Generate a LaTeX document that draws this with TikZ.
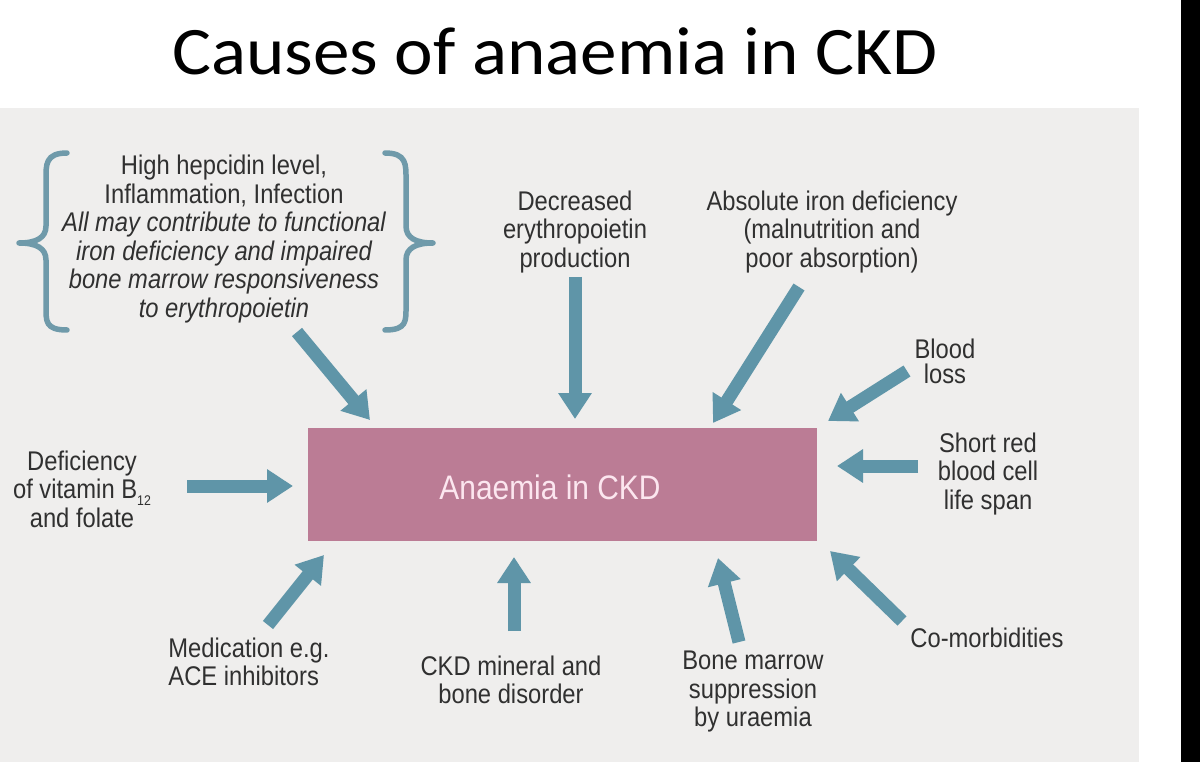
\documentclass[tikz,border=0pt]{standalone}
\usepackage{fontspec}
\setmainfont{Liberation Sans}[FakeStretch=0.88]
\newfontfamily\titlefont{Carlito}[FakeStretch=1.075]
\usetikzlibrary{arrows.meta}
\definecolor{panelc}{HTML}{EFEEED}
\definecolor{arrowc}{HTML}{5F95A8}
\definecolor{bracec}{HTML}{6F9AAA}
\definecolor{boxc}{HTML}{BB7C95}
\definecolor{boxtext}{HTML}{FCE6EF}
\definecolor{txtc}{HTML}{303030}
\tikzset{
  cause/.style={draw=arrowc, line width=13pt, -{Triangle[length=26pt,width=32pt]}},
  lbl/.style={text=txtc, align=center, inner sep=0pt, font=\fontsize{27}{28.5}\selectfont},
  bracepath/.style={draw=bracec, line width=5.5pt, line cap=round, line join=round},
}
\begin{document}
\begin{tikzpicture}[x=1pt,y=-1pt]
\useasboundingbox (0,0) rectangle (1200,762);
% backgrounds
\fill[white] (0,0) rectangle (1200,762);
\fill[panelc] (0,108) rectangle (1139,762);
\fill[black] (1181,0) rectangle (1200,762);
% title
\node[anchor=base, inner sep=0pt, font=\titlefont\fontsize{68}{70}\selectfont] (title) at (555,75) {Causes of anaemia in CKD};
% central box
\node[fill=boxc, minimum width=509pt, minimum height=113pt, inner sep=0pt] (box) at (562.5,484.5) {};
\node[text=boxtext, inner sep=0pt, font=\fontsize{34}{36}\selectfont] (boxlabel) at (550,487) {Anaemia in CKD};
% labels
\node[lbl] (brace) at (224,239) {High hepcidin level,\\Inflammation, Infection\\
  \itshape All may contribute to functional\\ \itshape iron deficiency and impaired\\
  \itshape bone marrow responsiveness\\ \itshape to erythropoietin};
\node[lbl] (epo) at (575,232) {Decreased\\erythropoietin\\production};
\node[lbl] (iron) at (832,232) {Absolute iron deficiency\\(malnutrition and\\poor absorption)};
\node[lbl, font=\fontsize{27}{25}\selectfont] (blood) at (945,361) {Blood\\loss};
\node[lbl] (short) at (988,474) {Short red\\blood cell\\life span};
\node[lbl] (comorb) at (987,638) {Co-morbidities};
\node[lbl] (vitb) at (82,489) {Deficiency\\of vitamin B\raisebox{-0.45ex}{\fontsize{14}{14}\selectfont 12}\\and folate};
\node[lbl, align=left] (med) at (249,662) {Medication e.g.\\ACE inhibitors};
\node[lbl] (ckd) at (511,680) {CKD mineral and\\bone disorder};
\node[lbl] (marrow) at (753,692) {Bone marrow\\suppression\\by uraemia};
% braces
\draw[bracepath] (67,153) .. controls (45,153) and (46,165) .. (46,180) -- (46,226)
  .. controls (46,238) and (36,243) .. (19,243)
  .. controls (36,243) and (46,248) .. (46,260) -- (46,306)
  .. controls (46,321) and (45,330) .. (67,330);
\draw[bracepath] (385,153) .. controls (407,153) and (406,165) .. (406,180) -- (406,226)
  .. controls (406,238) and (416,243) .. (433,243)
  .. controls (416,243) and (406,248) .. (406,260) -- (406,306)
  .. controls (406,321) and (407,330) .. (385,330);
% arrow end points
\coordinate (t1) at (297,332); \coordinate (h1) at (370,420);
\coordinate (t2) at (575,277); \coordinate (h2) at (575,419);
\coordinate (t3) at (799,287); \coordinate (h3) at (713,423);
\coordinate (t4) at (907,371); \coordinate (h4) at (828,421);
\coordinate (t5) at (918,466); \coordinate (h5) at (837,466);
\coordinate (t6) at (902,621); \coordinate (h6) at (830,551);
\coordinate (t7) at (739,642); \coordinate (h7) at (718,558);
\coordinate (t8) at (514,631); \coordinate (h8) at (514,557);
\coordinate (t9) at (268,625); \coordinate (h9) at (324,555);
\coordinate (t10) at (187,486); \coordinate (h10) at (293,486);
\foreach \i in {1,...,10} { \draw[cause] (t\i) -- (h\i); }
\end{tikzpicture}
\end{document}
